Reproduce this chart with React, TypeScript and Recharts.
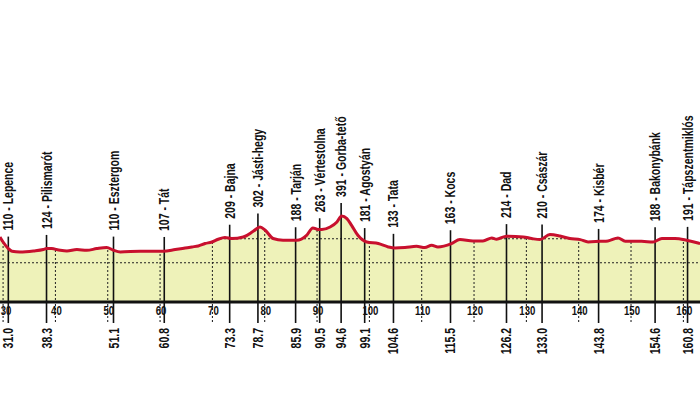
import React from "react";
import {
  ComposedChart,
  Area,
  Line,
  XAxis,
  YAxis,
  CartesianGrid,
  ReferenceLine,
} from "recharts";

// Profile of the stage: distance (km) and elevation (m)
const PROFILE_KM = [
  29.4, 30.0, 31.0, 31.7, 33.2, 35.8, 37.7, 38.3, 39.3, 40.6, 42.2, 44.1, 46.0, 47.9, 49.8, 51.1, 52.4,
  56.2, 60.6, 62.9, 64.8, 66.1, 67.3, 68.6, 69.9, 71.1, 72.4, 73.7, 75.9, 77.8, 79.1, 80.1, 81.6, 83.5,
  86.1, 88.0, 89.2, 90.2, 90.9, 92.5, 93.8, 94.7, 95.7, 96.6, 97.8, 99.5, 101.7, 103.6, 104.9, 106.8,
  109.0, 110.6, 111.9, 113.1, 115.7, 117.3, 119.8, 121.7, 123.4, 124.3, 126.2, 129.4, 131.0, 132.6,
  134.5, 136.4, 138.3, 140.3, 141.8, 144.1, 145.6, 147.5, 148.9, 152.0, 154.2, 155.9, 158.4, 160.6,
  162.8, 163.2,
];
const PROFILE_ELEV = [
  215, 173, 118, 96, 90, 98, 110, 118, 118, 107, 98, 110, 104, 118, 127, 104, 90,
  96, 96, 110, 123, 132, 140, 160, 173, 196, 210, 202, 215, 262, 298, 271, 202, 188,
  188, 229, 290, 277, 277, 298, 340, 390, 368, 312, 229, 173, 160, 132, 123, 127,
  137, 127, 146, 132, 160, 193, 182, 182, 207, 196, 221, 215, 202, 193,
  235, 223, 202, 193, 173, 179, 182, 207, 179, 179, 173, 202, 202, 188,
  165, 160,
];

// Towns / climbs along the route
const STATION_KM = [31.0, 38.3, 51.1, 60.8, 73.3, 78.7, 85.9, 90.5, 94.6, 99.1, 104.6, 115.5, 126.2, 133.0, 143.8, 154.6, 160.8];
const STATION_ELEV = [110, 124, 110, 107, 209, 302, 188, 263, 391, 181, 133, 163, 214, 210, 174, 188, 191];
const STATION_NAME = [
  "Lepence", "Pilismarót", "Esztergom", "Tát", "Bajna", "Jásti-hegy", "Tarján", "Vértestolna",
  "Gorba-tető", "Agostyán", "Tata", "Kocs", "Dad", "Császár", "Kisbér", "Bakonybánk", "Tápszentmiklós",
];

const KM_TICKS = [30, 40, 50, 60, 70, 80, 90, 100, 110, 120, 130, 140, 150, 160];
const GRID_ELEV = [0, 200];

const X_DOMAIN: [number, number] = [29.41, 163.18];
const Y_DOMAIN: [number, number] = [-327, 2173];
const LINE_BOTTOM = -502; // station lines run a bit below the base line
const LINE_RISE = 108; // and stick out a little above the profile

// no narrow font installed: squeeze Liberation Sans along the text direction
const FONT = "'Liberation Sans', Arial, sans-serif";
const SQUEEZE = 0.75;
const RED = "#c8102e";
const FILL = "#eef2b9";

const rows = PROFILE_KM.map((km, i) => ({ km, elev: PROFILE_ELEV[i] }));

function KmTick({ x, y, payload }: any) {
  const cx = Math.max(x + 1, 6);
  return (
    <text
      transform={`translate(${cx},${y - 9.5}) scale(0.8,1)`}
      textAnchor="middle"
      fontSize={12}
      fontWeight="bold"
      fontFamily={FONT}
      fill="#111"
    >
      {payload.value}
    </text>
  );
}

function StationLabel({ viewBox, text, km }: any) {
  if (!viewBox) return null;
  const { x, y, height } = viewBox;
  const bottom = y + height;
  return (
    <g fontFamily={FONT} fontWeight="bold" fontSize={14} fill="#111">
      <text transform={`translate(${x + 5},${y - 6}) rotate(-90) scale(${SQUEEZE},1)`} textAnchor="start">
        {text}
      </text>
      <text transform={`translate(${x + 5},${bottom + 5}) rotate(-90) scale(${SQUEEZE},1)`} textAnchor="end">
        {km}
      </text>
    </g>
  );
}

export default function App() {
  return (
    <div style={{ position: "absolute", left: 0, top: 0, width: 700, height: 394, background: "#fff" }}>
      <ComposedChart width={700} height={394} data={rows} margin={{ top: 2, right: 0, bottom: 72, left: 0 }}>
        <CartesianGrid
          fill={FILL}
          fillOpacity={1}
          stroke="#222"
          strokeDasharray="2 2"
          horizontalValues={GRID_ELEV}
          verticalValues={KM_TICKS}
        />
        <XAxis
          dataKey="km"
          type="number"
          domain={X_DOMAIN}
          allowDataOverflow
          ticks={KM_TICKS}
          interval={0}
          height={20}
          axisLine={{ stroke: "#111", strokeWidth: 3 }}
          tickLine={{ stroke: "#111", strokeDasharray: "2 2" }}
          tickSize={20}
          tick={<KmTick />}
        />
        <YAxis hide type="number" domain={Y_DOMAIN} allowDataOverflow ticks={GRID_ELEV} />
        {/* white above the profile hides the grid there */}
        <Area
          type="monotone"
          dataKey="elev"
          baseValue="dataMax"
          fill="#fff"
          fillOpacity={1}
          stroke="none"
          isAnimationActive={false}
          zIndex={100}
        />
        {STATION_KM.map((km, i) => (
          <ReferenceLine
            key={km}
            segment={[
              { x: km, y: LINE_BOTTOM },
              { x: km, y: STATION_ELEV[i] + LINE_RISE },
            ]}
            stroke="#111"
            strokeWidth={1.6}
            ifOverflow="visible"
            zIndex={300}
            label={<StationLabel text={`${STATION_ELEV[i]} - ${STATION_NAME[i]}`} km={km.toFixed(1)} />}
          />
        ))}
        <Line
          type="monotone"
          dataKey="elev"
          stroke={RED}
          strokeWidth={3}
          dot={false}
          activeDot={false}
          isAnimationActive={false}
          zIndex={400}
        />
      </ComposedChart>
    </div>
  );
}
